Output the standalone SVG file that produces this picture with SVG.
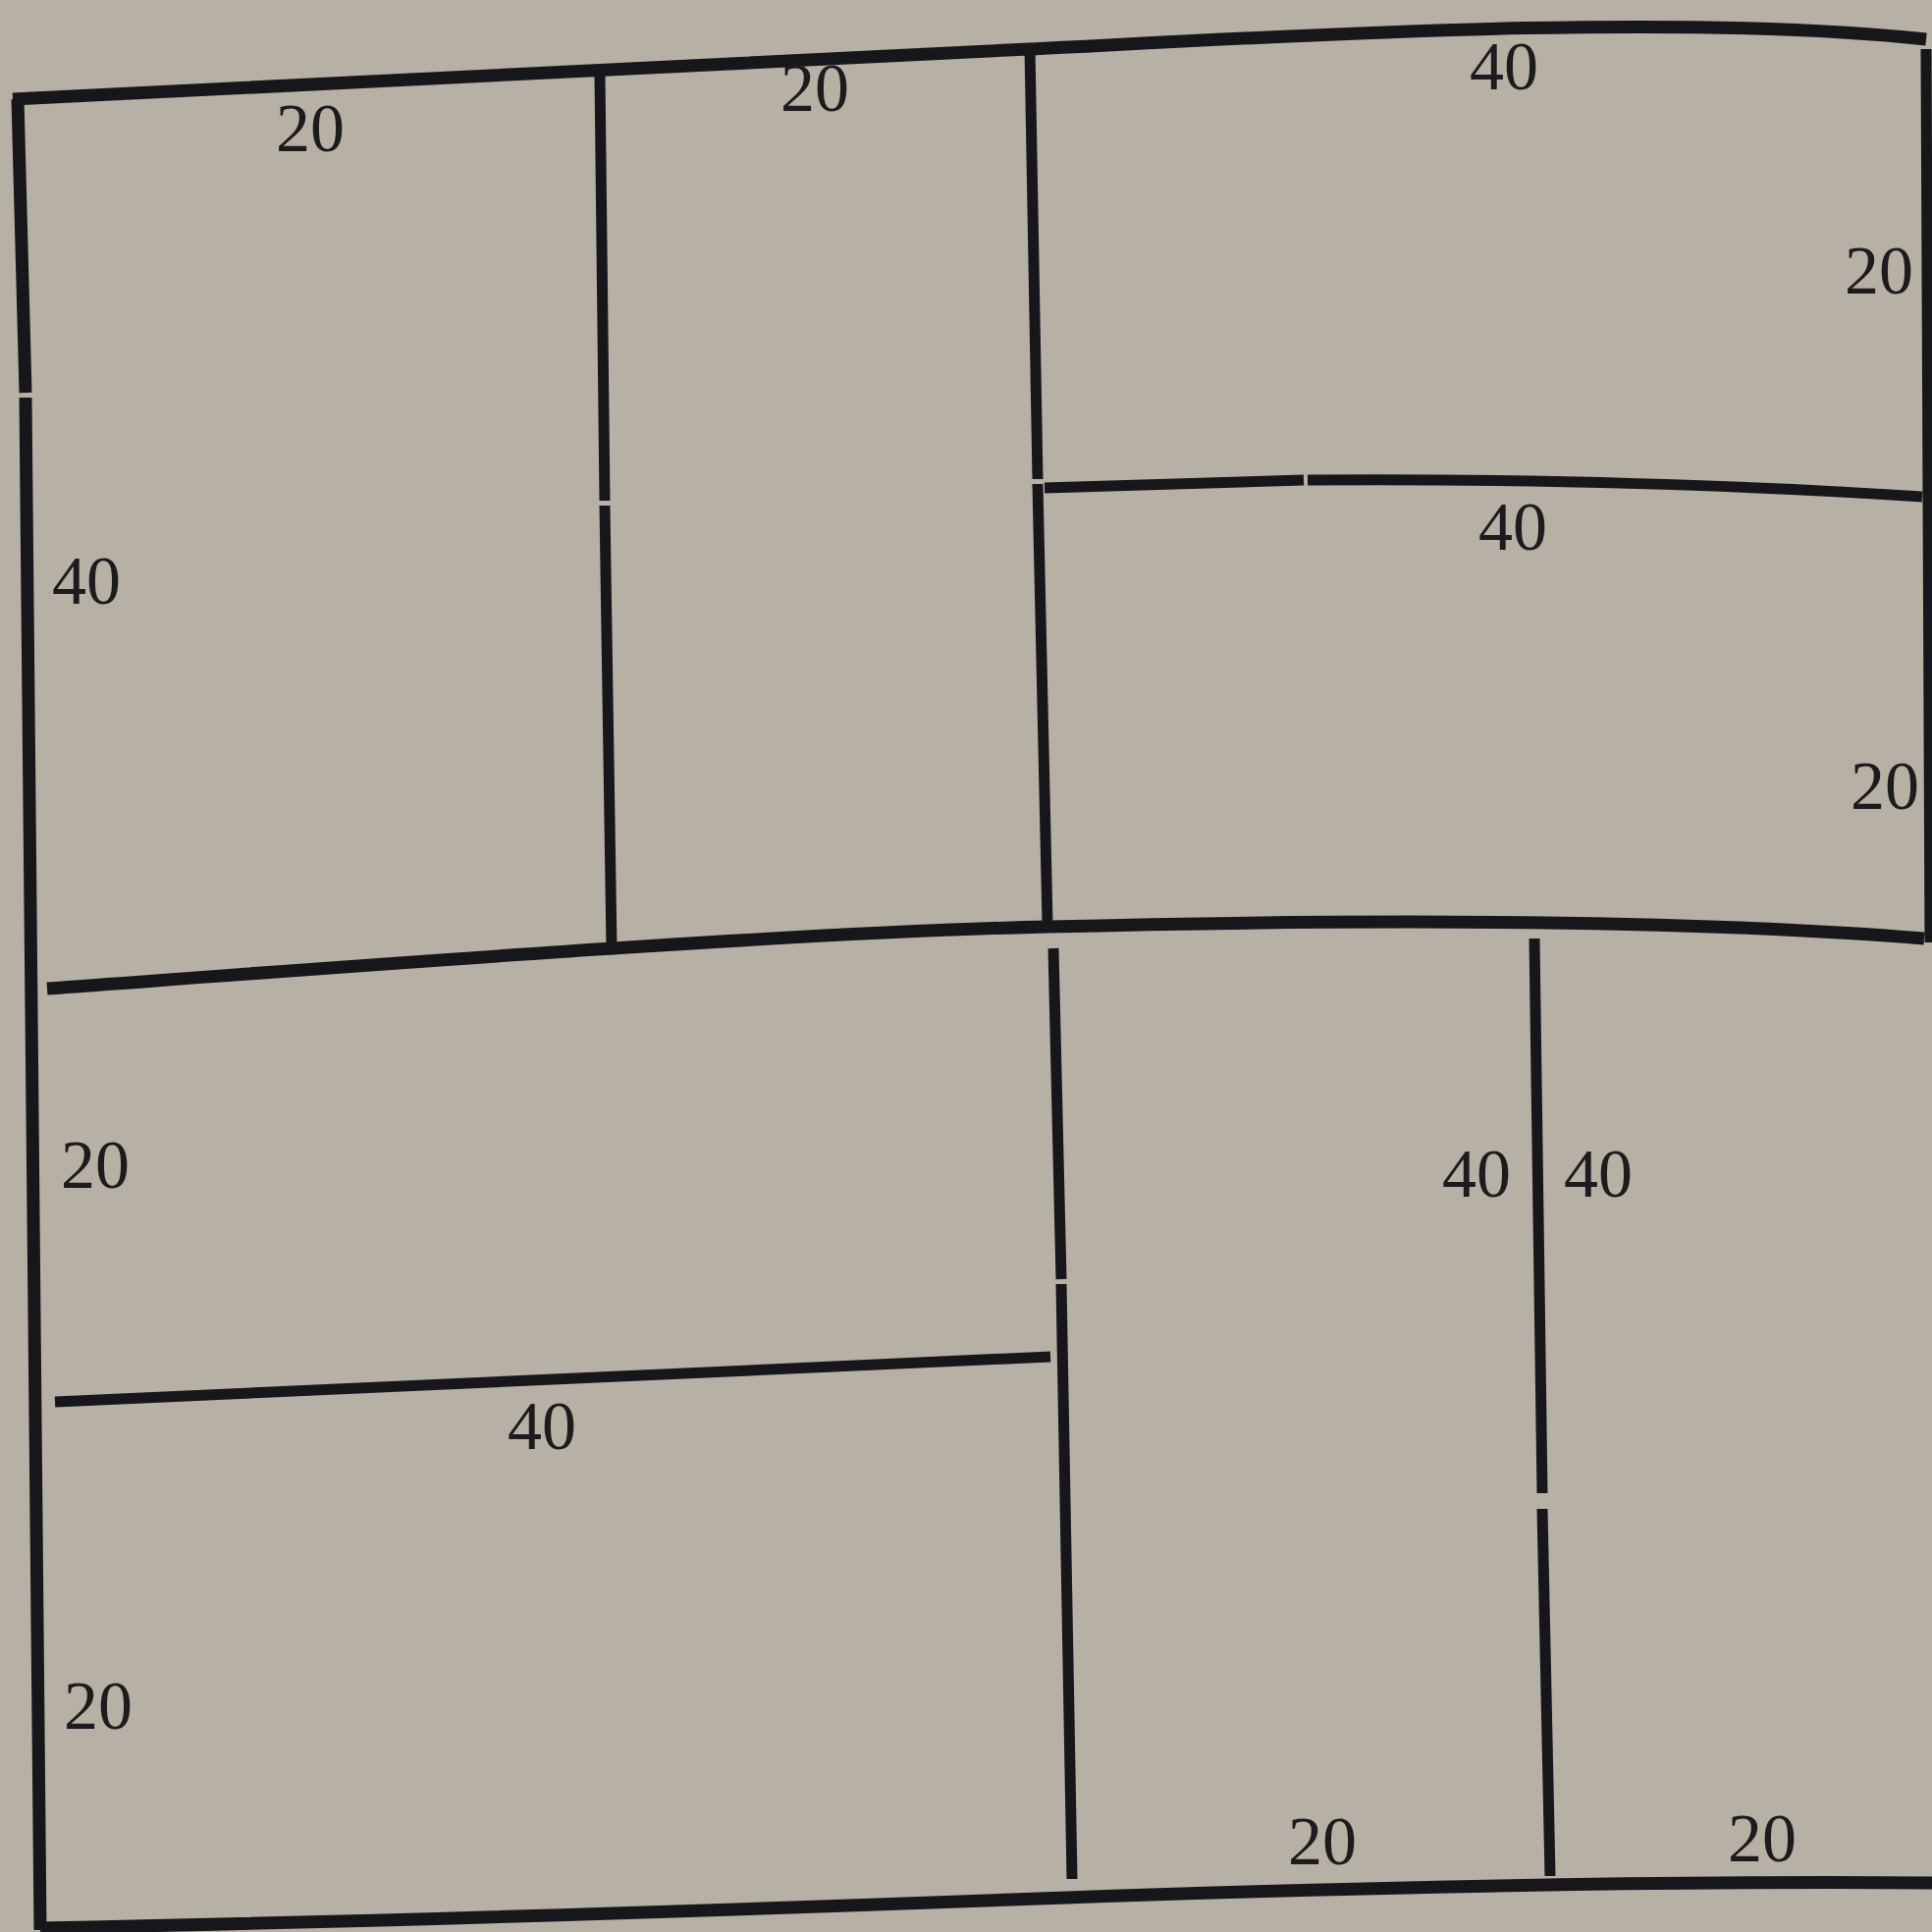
<svg xmlns="http://www.w3.org/2000/svg" width="1968" height="1968" viewBox="0 0 1968 1968">
<style>
.ln{fill:none;stroke:#17171b;stroke-linecap:butt;stroke-linejoin:round}
.b{stroke-width:13}
.w{stroke-width:11}
.t{font-family:"Liberation Serif","Times New Roman",serif;font-size:70px;fill:#1c1b1d;text-anchor:middle}
</style>
<rect width="1968" height="1968" fill="#b7b0a4"/>
<g id="connectors">
<path class="ln b" d="M13 101 L1048 50 C1300 37.6 1700 12 1962 40"/>
<path class="ln b" d="M18 101 L26 400 M26 405 L41 1966"/>
<path class="ln w" d="M1962 50 L1966 960"/>
<path class="ln b" d="M41 1964 C500 1955 900 1940 1086 1933 C1400 1922 1700 1916 1968 1918"/>
<path class="ln b" d="M48 1007 C350 985 800 950 1067 944 C1350 937 1700 935 1960 956"/>
<path class="ln w" d="M1064 497 L1328 489 M1332 489 C1550 487 1800 495 1958 506"/>
<path class="ln w" d="M56 1428 L1070 1382"/>
<path class="ln w" d="M611 75 L616 510 M616 515 L623 964"/>
<path class="ln w" d="M1049 48 L1057 488 M1057 493 L1067 941"/>
<path class="ln w" d="M1073 966 L1081 1303 M1081 1308 L1092 1914"/>
<path class="ln w" d="M1563 956 L1571 1521 M1571 1537 L1579 1911"/>
</g>
<g id="labels">
<text class="t" x="316" y="154">20</text>
<text class="t" x="830" y="113">20</text>
<text class="t" x="1532" y="91">40</text>
<text class="t" x="1914" y="299">20</text>
<text class="t" x="88" y="615">40</text>
<text class="t" x="1541" y="560">40</text>
<text class="t" x="1920" y="824">20</text>
<text class="t" x="97" y="1210">20</text>
<text class="t" x="1504" y="1219">40</text>
<text class="t" x="1628" y="1219">40</text>
<text class="t" x="552" y="1476">40</text>
<text class="t" x="100" y="1761">20</text>
<text class="t" x="1347" y="1899">20</text>
<text class="t" x="1795" y="1896">20</text>
</g>
</svg>
